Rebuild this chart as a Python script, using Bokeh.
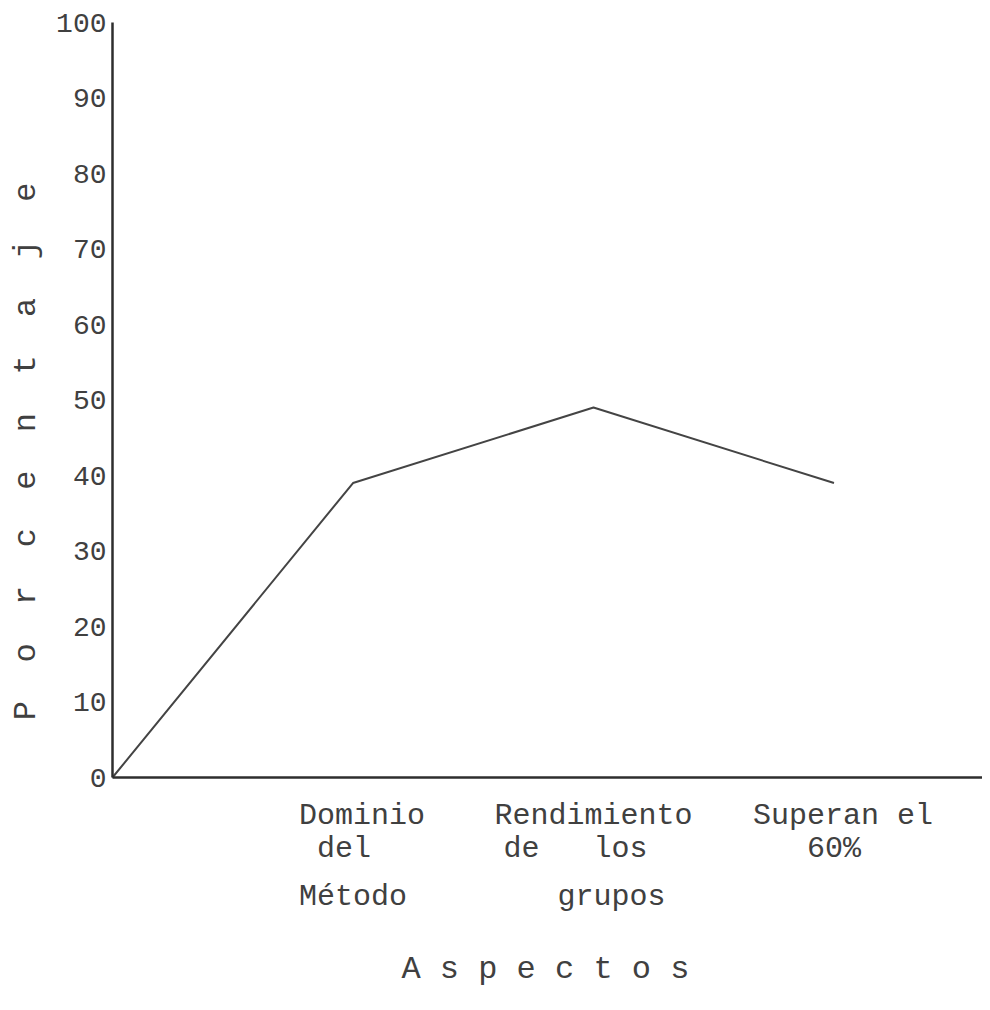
from bokeh.plotting import figure
from bokeh.models import Range1d, FixedTicker, Label, LabelSet, ColumnDataSource, LinearAxis
from bokeh.core.properties import value
from bokeh.embed import file_html
from bokeh.resources import INLINE

NB = "\u00a0"

# ---- data ----
categories = ["Dominio del Método", "Rendimiento de los grupos", "Superan el 60%"]
cat_pos = [1, 2, 3]
values = [39, 49, 39]
y_ticks = [0, 10, 20, 30, 40, 50, 60, 70, 80, 90, 100]
cat_line1 = [NB + "Dominio", "Rendimiento", NB + "Superan el"]
cat_line2 = [NB + "del" + NB * 2, "de" + NB * 3 + "los" + NB * 2, "60%"]
cat_line3 = ["Método", NB * 2 + "grupos", ""]
y_title = (NB * 2).join(list("Porcentaje"))
x_title = " ".join(list("Aspectos"))

# line begins at the origin
line_x = [0] + cat_pos
line_y = [0] + values

FONT = "Liberation Mono"
TXT = "#404040"
AX = "#2e2e2e"

W, H = 982, 994
PX_X = 240.5      # pixels per category step
PX_Y = 7.55       # pixels per percent
X0, Y0 = 112, 777  # canvas position of the origin

p = figure(width=W, height=H, output_backend="svg", toolbar_location=None,
           x_range=Range1d(-X0 / PX_X, (W - X0) / PX_X),
           y_range=Range1d(-(H - Y0) / PX_Y, 100 + (Y0 - 100 * PX_Y) / PX_Y),
           x_axis_location=None, y_axis_location=None,
           min_border_left=0, min_border_right=0, min_border_top=0,
           min_border_bottom=0)
p.outline_line_color = None
p.xgrid.grid_line_color = None
p.ygrid.grid_line_color = None
p.background_fill_color = "white"
p.border_fill_color = "white"

# y axis
ya = LinearAxis(fixed_location=0, bounds=(0, 100), ticker=FixedTicker(ticks=y_ticks))
ya.major_tick_out = 0
ya.major_tick_in = 0
ya.minor_tick_out = 0
ya.minor_tick_in = 0
ya.axis_line_color = AX
ya.axis_line_width = 2.5
ya.major_label_text_font = FONT
ya.major_label_text_font_size = "28px"
ya.major_label_text_color = TXT
ya.major_label_standoff = 6
p.add_layout(ya, "left")

# x axis
xa = LinearAxis(fixed_location=0, bounds=(0, 10), ticker=FixedTicker(ticks=[]))
xa.major_tick_out = 0
xa.minor_tick_out = 0
xa.axis_line_color = AX
xa.axis_line_width = 2.5
xa.major_label_text_font_size = "0px"
p.add_layout(xa, "below")

# data line
p.line(line_x, line_y, line_color="#444444", line_width=2)

# category labels
src = ColumnDataSource(dict(x=cat_pos, y=[0] * 3, l1=cat_line1, l2=cat_line2, l3=cat_line3))
for field, off in (("l1", -46), ("l2", -79), ("l3", -127)):
    p.add_layout(LabelSet(source=src, x="x", y="y", text=field, y_offset=off,
                          text_align="center", text_baseline="alphabetic",
                          text_font=value(FONT), text_font_size=value("30px"),
                          text_color=TXT))

# axis titles
p.add_layout(Label(x=0, y=43.2, x_offset=-86, text=y_title, angle=1.5707963,
                   text_align="center", text_baseline="middle",
                   text_font=FONT, text_font_size="32px", text_color=TXT))
p.add_layout(Label(x=1.80, y=0, y_offset=-192, text=x_title,
                   text_align="center", text_baseline="alphabetic",
                   text_font=FONT, text_font_size="32px", text_color=TXT))

open("out.html", "w").write(file_html(p, INLINE))
